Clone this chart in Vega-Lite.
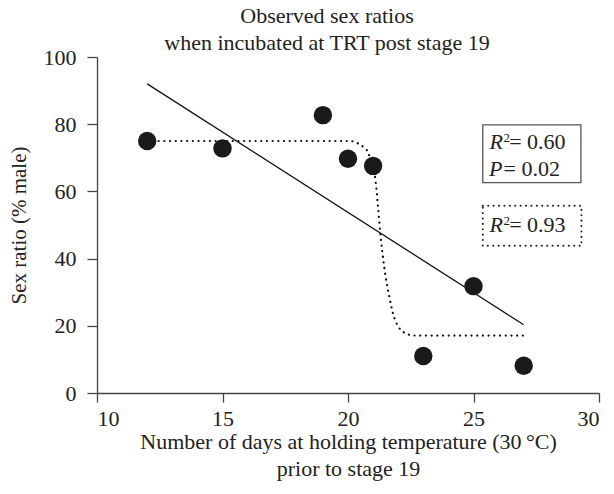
{
  "$schema": "https://vega.github.io/schema/vega-lite/v6.json",
  "autosize": {"type": "none"},
  "padding": {"left": 97, "top": 57, "right": 15, "bottom": 101},
  "width": 502,
  "height": 336,
  "background": "white",
  "config": {
    "view": {"stroke": null},
    "font": "Liberation Serif",
    "axis": {"grid": false, "domainColor": "#444", "tickColor": "#444", "labelColor": "#222", "titleColor": "#222", "labelFont": "Liberation Serif", "titleFont": "Liberation Serif", "labelFontSize": 22, "titleFontSize": 21, "titleFontWeight": "normal", "domainWidth": 1.3, "tickWidth": 1.3}
  },
  "title": {"text": ["Observed sex ratios", "when incubated at TRT post stage 19"], "font": "Liberation Serif", "fontSize": 22, "fontWeight": "normal", "color": "#222", "lineHeight": 27, "anchor": "middle", "dx": -21, "offset": -9},
  "datasets": {
    "obs": [
      {"days": 12, "ratio": 75},
      {"days": 15, "ratio": 72.8},
      {"days": 19, "ratio": 82.7},
      {"days": 20, "ratio": 69.7},
      {"days": 21, "ratio": 67.6},
      {"days": 23, "ratio": 11},
      {"days": 25, "ratio": 31.8},
      {"days": 27, "ratio": 8.1}
    ],
    "linfit": [
      {"days": 12, "ratio": 92},
      {"days": 27, "ratio": 20.3}
    ],
    "sigfit": [
      {"days": 12, "ratio": 75},
      {"days": 20.0, "ratio": 75},
      {"days": 20.2, "ratio": 74.9},
      {"days": 20.4, "ratio": 74.3},
      {"days": 20.6, "ratio": 73.3},
      {"days": 20.8, "ratio": 71.6},
      {"days": 20.95, "ratio": 68},
      {"days": 21.1, "ratio": 63},
      {"days": 21.2, "ratio": 55},
      {"days": 21.3, "ratio": 46.5},
      {"days": 21.4, "ratio": 40},
      {"days": 21.5, "ratio": 34.6},
      {"days": 21.65, "ratio": 28.5},
      {"days": 21.8, "ratio": 23.5},
      {"days": 22.0, "ratio": 19.8},
      {"days": 22.2, "ratio": 18.2},
      {"days": 22.4, "ratio": 17.4},
      {"days": 22.7, "ratio": 17.1},
      {"days": 27, "ratio": 17.1}
    ],
    "boxSolid": [{"x1": 25.37, "x2": 29.28, "y1": 79.8, "y2": 62.6}],
    "boxDot": [{"x1": 25.37, "x2": 29.3, "y1": 55.7, "y2": 43.8}],
    "italic": [
      {"x": 25.64, "y": 72.6, "t": "R"},
      {"x": 25.62, "y": 64.7, "t": "P"},
      {"x": 25.64, "y": 48.0, "t": "R"}
    ],
    "sup": [
      {"x": 26.2, "y": 74.6, "t": "2"},
      {"x": 26.2, "y": 50.0, "t": "2"}
    ],
    "plain": [
      {"x": 26.42, "y": 72.6, "t": "= 0.60"},
      {"x": 26.2, "y": 64.7, "t": "= 0.02"},
      {"x": 26.42, "y": 48.0, "t": "= 0.93"}
    ]
  },
  "layer": [
    {
      "data": {"name": "linfit"},
      "mark": {"type": "line", "color": "#111", "strokeWidth": 1.3},
      "encoding": {
        "x": {"field": "days", "type": "quantitative", "scale": {"domain": [10, 30], "nice": false}, "axis": {"values": [10, 15, 20, 25, 30], "tickSize": 9, "labelPadding": 6, "title": ["Number of days at holding temperature (30\u2009°C)", "prior to stage 19"], "titlePadding": 2, "titleFontSize": 22, "titleLineHeight": 27}},
        "y": {"field": "ratio", "type": "quantitative", "scale": {"domain": [0, 100], "nice": false}, "axis": {"values": [0, 20, 40, 60, 80, 100], "tickSize": 10, "labelPadding": 11, "title": "Sex ratio (% male)", "titlePadding": 14}}
      }
    },
    {
      "data": {"name": "sigfit"},
      "mark": {"type": "line", "color": "#111", "strokeWidth": 2.2, "strokeDash": [0.1, 5.6], "strokeCap": "round", "interpolate": "monotone"},
      "encoding": {
        "x": {"field": "days", "type": "quantitative"},
        "y": {"field": "ratio", "type": "quantitative"}
      }
    },
    {
      "data": {"name": "obs"},
      "mark": {"type": "circle", "size": 340, "color": "#1a1a1a", "opacity": 1},
      "encoding": {
        "x": {"field": "days", "type": "quantitative"},
        "y": {"field": "ratio", "type": "quantitative"}
      }
    },
    {
      "data": {"name": "boxSolid"},
      "mark": {"type": "rect", "fill": null, "stroke": "#555", "strokeWidth": 1.3},
      "encoding": {
        "x": {"field": "x1", "type": "quantitative"},
        "x2": {"field": "x2"},
        "y": {"field": "y1", "type": "quantitative"},
        "y2": {"field": "y2"}
      }
    },
    {
      "data": {"name": "boxDot"},
      "mark": {"type": "rect", "fill": null, "stroke": "#222", "strokeWidth": 2, "strokeDash": [0.1, 5.3], "strokeCap": "round"},
      "encoding": {
        "x": {"field": "x1", "type": "quantitative"},
        "x2": {"field": "x2"},
        "y": {"field": "y1", "type": "quantitative"},
        "y2": {"field": "y2"}
      }
    },
    {
      "data": {"name": "italic"},
      "mark": {"type": "text", "font": "Liberation Serif", "fontSize": 22, "fontStyle": "italic", "align": "left", "baseline": "alphabetic", "color": "#222"},
      "encoding": {
        "x": {"field": "x", "type": "quantitative"},
        "y": {"field": "y", "type": "quantitative"},
        "text": {"field": "t"}
      }
    },
    {
      "data": {"name": "sup"},
      "mark": {"type": "text", "font": "Liberation Serif", "fontSize": 13, "align": "left", "baseline": "alphabetic", "color": "#222"},
      "encoding": {
        "x": {"field": "x", "type": "quantitative"},
        "y": {"field": "y", "type": "quantitative"},
        "text": {"field": "t"}
      }
    },
    {
      "data": {"name": "plain"},
      "mark": {"type": "text", "font": "Liberation Serif", "fontSize": 22, "align": "left", "baseline": "alphabetic", "color": "#222"},
      "encoding": {
        "x": {"field": "x", "type": "quantitative"},
        "y": {"field": "y", "type": "quantitative"},
        "text": {"field": "t"}
      }
    }
  ]
}
